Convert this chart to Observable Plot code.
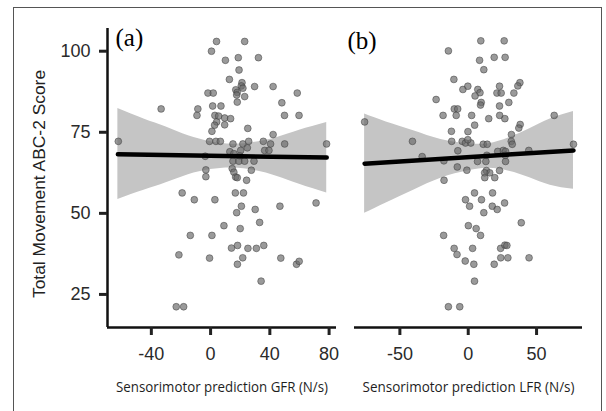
<!DOCTYPE html>
<html>
<head>
<meta charset="utf-8">
<script src="https://cdn.jsdelivr.net/npm/d3@7"></script>
<script src="https://cdn.jsdelivr.net/npm/@observablehq/plot@0.6"></script>
<style>
  html, body { margin: 0; padding: 0; background: #fff; }
  #wrap { position: relative; width: 606px; height: 411px; overflow: hidden; }
  #frame { position: absolute; left: 13px; top: 7px; width: 589px; height: 420px; border: 1.5px solid #555; box-sizing: border-box; pointer-events: none; }
  .panel { position: absolute; top: 0; }
</style>
</head>
<body>
<div id="wrap">
  <div id="frame"></div>
  <div id="pa" class="panel" style="left:0px"></div>
  <div id="pb" class="panel" style="left:345px"></div>
</div>
<script>
// ---------- data ----------
const yTitle = "Total Movement ABC-2 Score";
const yTicks = [25, 50, 75, 100];
const yDomain = [14.8, 107];

// Panel (a): GFR
const labelA = "(a)";
const xTitleA = "Sensorimotor prediction GFR (N/s)";
const xTicksA = [-40, 0, 40, 80];
const xDomainA = [-69.6, 85];
const gfrX = [4, 23, 0.6, 10, 18.7, 32.3, 19.2, 12.7, -1.8, 1.8,
  21.2, 20.7, 21.8, 17, 18, 17.6, 23, 18, 29.7, 42.2,
  58.5, 48.1, 49.9, 59.7, -33.4, -8.6, -9.2, 1.4, 7, 2.9,
  5.4, 4.1, 2.7, 0.9, 9.5, 13.5, 9.5, 25.1, 42.2, -62.3,
  -0.7, 3.6, 6.6, 15.1, 21.8, 25.7, 35.6, 40.5, 50, 78.3,
  20.3, 24.8, 36.5, 39.4, 13, 15.7, 19.8, -3.6, 15.1, 19.1,
  23, 29.3, -3.2, -3.2, 14.6, 15.7, 16.9, 27.5, 18, 24.3,
  -19.2, -11, 2.9, 16.7, 22.2, 20.8, 17.6, 30.1, 46.8, 71.2,
  9, 20, 33.1, -13.7, 0.9, 14.1, 18.2, 25.2, 30.9, 35.9,
  -21.4, -0.7, 21.7, 18.1, 47.4, 58, 59.8, 34.1, -23.2, -18.2];
const gfrY = [103, 103, 100, 97.2, 98, 98, 94.2, 91.3, 87.1, 87.1,
  90.3, 89.3, 88.6, 88.1, 87.3, 86.5, 86, 84.3, 89.1, 89.1,
  87.1, 84.1, 80.2, 80.2, 82.2, 82.2, 80.2, 83.1, 83.1, 80.2,
  80, 78.2, 77.2, 75.3, 79.4, 79.2, 77.3, 76.2, 74.3, 72.2,
  72.2, 72.2, 72.2, 71.4, 71.4, 72.2, 72.2, 71.4, 71.4, 71.4,
  69.4, 70.2, 69.4, 69.4, 69, 68.4, 67.7, 67.6, 66.1, 66.1,
  66.1, 66.1, 63.4, 61.3, 63.8, 62.7, 61.2, 63.3, 61, 60.2,
  56.3, 54.2, 54.2, 56.3, 56.3, 52.2, 50.2, 51.2, 52.2, 53.2,
  46.2, 45.3, 47.2, 43.2, 43.2, 39.3, 40.1, 39.2, 39.2, 40.1,
  37.2, 36.2, 36.3, 34.3, 36.2, 34.3, 35.2, 29.1, 21.2, 21.2];
const fitAX = [-62.6, 78.4];
const fitAY = [68.2, 67.2];
const bandAX = [-62.6, -45, -30, -15, 0, 15, 30, 45, 60, 78.4];
const bandALo = [54.3, 57.1, 59.4, 61.9, 63.5, 64.0, 63.2, 61.4, 59.0, 56.3];
const bandAHi = [82.3, 79.1, 76.6, 73.9, 72.1, 71.3, 71.9, 73.4, 75.6, 78.0];

// Panel (b): LFR
const labelB = "(b)";
const xTitleB = "Sensorimotor prediction LFR (N/s)";
const xTicksB = [-50, 0, 50];
const xDomainB = [-83.2, 83.6];
const lfrX = [9.2, 26.3, -14.5, 8.3, 19, 27, 11.4, -10.5, -3.9, -0.3,
  7, 8.6, 5, 22.9, 21, 24.1, 37.8, 36.3, 33.4, -23.5,
  9.5, 9, 29.7, 22.9, -10.2, -7.7, -8.8, -18.4, 2.5, 15,
  23, 26.8, 62.9, 4.7, -0.2, 38, 37, 31.6, -75.8, -12.3,
  -40.8, -12.1, -4.4, -2, 1.9, -0.3, 11, 13.9, 31.5, 32.2,
  25.6, 21.6, 27.3, 44.3, 77, -7.6, -33.7, -17.8, 6.8, 12.9,
  13.6, 27.3, 27.1, -8, -1, 13.3, 15.7, 12, 22.9, 12.1,
  19.4, -17.7, 4.6, 17.8, -2, 9.7, 1, 17.6, 21.2, 26.6,
  11.4, 38.8, 0.1, 5.8, 9, -18, -10.3, -8.2, 3.2, 23.7,
  26.8, 28.3, -2.2, 4.1, 19, 23.8, 29, 44.5, 4.6, -14.5, -6.2];
const lfrY = [103.2, 103.2, 100.1, 97.2, 98.1, 98.1, 94.3, 91.3, 88.2, 89.2,
  88.2, 87.2, 86.2, 89.2, 87.1, 87.1, 90.3, 89.3, 87.1, 85.1,
  84.2, 83.4, 84.2, 83.1, 82.2, 82.2, 80.2, 80.2, 80.2, 79.2,
  80.2, 79.2, 80.2, 77.2, 75.2, 77.4, 76.3, 74.3, 78.2, 75.3,
  72.2, 72.2, 72.2, 71.7, 71.7, 72.7, 71.3, 71.3, 72.2, 71.3,
  69.4, 69.1, 69.1, 69.4, 71.3, 69.3, 67.5, 66.2, 66, 66,
  67.9, 66, 67.9, 64.3, 63.3, 63.2, 62.5, 62.5, 63.2, 61,
  61, 60.2, 56.3, 56.3, 54.2, 54.2, 52.2, 52.2, 51.2, 53.2,
  50.2, 47.1, 46.2, 45.3, 43.2, 43.2, 39.2, 37.3, 39.2, 39.2,
  40.2, 40.1, 35.3, 34.3, 34.3, 36.3, 36.3, 36.3, 29.1, 21.2, 21.2];
const fitBX = [-75.8, 77];
const fitBY = [65.3, 69.4];
const bandBX = [-75.8, -60, -40, -20, 0, 15, 30, 45, 60, 77];
const bandBLo = [50.0, 53.2, 57.1, 60.8, 63.1, 63.9, 63.0, 61.0, 58.7, 57.4];
const bandBHi = [80.6, 78.2, 75.5, 72.8, 71.5, 71.5, 73.3, 76.1, 79.1, 81.4];

// ---------- drawing ----------
const SANS = "Liberation Sans, Arial, Helvetica, sans-serif";
function panel(o) {
  const pts = d3.range(o.xs.length);
  const band = d3.range(o.bx.length);
  const fit = d3.range(o.fx.length);
  const marks = [
    Plot.areaY(band, {x: i => o.bx[i], y1: i => o.blo[i], y2: i => o.bhi[i], fill: "#c5c5c5", curve: "natural"}),
    Plot.dot(pts, {x: i => o.xs[i], y: i => o.ys[i], r: 3.4, fill: "#6a6a6a", fillOpacity: 0.68, stroke: "#3c3c3c", strokeOpacity: 0.5, strokeWidth: 1}),
    Plot.line(fit, {x: i => o.fx[i], y: i => o.fy[i], stroke: "#000", strokeWidth: 4.5}),
    Plot.ruleY([yDomain[0]], {x1: o.xDomain[0], x2: o.xDomain[1], stroke: "#111", strokeWidth: 2.5}),
    Plot.axisX({ticks: o.xTicks, tickSize: 8, tickPadding: 12, strokeWidth: 3, fontSize: 18, fontFamily: SANS, fill: "#2a2a2a", tickFormat: d => String(d), label: null}),
    Plot.text([o.label], {frameAnchor: "top-left", dx: o.ldx, dy: o.ldy, fontSize: 25, fontFamily: "Liberation Serif, Times New Roman, serif", textAnchor: "start", lineAnchor: "top", fill: "#000"}),
    Plot.text([o.xTitle], {frameAnchor: "bottom", dy: 60, fontSize: 14, fontFamily: "Open Sans, sans-serif", textAnchor: "middle", lineAnchor: "middle", fill: "#1e1e1e"})
  ];
  if (o.showY) {
    marks.push(
      Plot.ruleX([o.xDomain[0]], {y1: yDomain[0], y2: yDomain[1], stroke: "#111", strokeWidth: 2.5}),
      Plot.axisY({ticks: yTicks, tickSize: 8, tickPadding: 9, strokeWidth: 3, fontSize: 18, fontFamily: SANS, fill: "#2a2a2a", label: null}),
      Plot.text([yTitle], {frameAnchor: "left", dx: -68, dy: 6, rotate: -90, fontSize: 17.4, fontFamily: SANS, fill: "#222", textAnchor: "middle", lineAnchor: "middle"})
    );
  }
  return Plot.plot({
    width: o.width, height: 411,
    marginLeft: o.mL, marginRight: o.mR, marginTop: 28, marginBottom: 84,
    x: {domain: o.xDomain, axis: null},
    y: {domain: yDomain, axis: null},
    style: {fontFamily: SANS, background: "transparent", color: "#222", overflow: "visible"},
    marks
  });
}

const A = panel({xs: gfrX, ys: gfrY, bx: bandAX, blo: bandALo, bhi: bandAHi, fx: fitAX, fy: fitAY,
  xDomain: xDomainA, xTicks: xTicksA, width: 345, mL: 107, mR: 9, showY: true,
  label: labelA, ldx: 8, ldy: 0, xTitle: xTitleA});
const B = panel({xs: lfrX, ys: lfrY, bx: bandBX, blo: bandBLo, bhi: bandBHi, fx: fitBX, fy: fitBY,
  xDomain: xDomainB, xTicks: xTicksB, width: 261, mL: 9, mR: 24, showY: false,
  label: labelB, ldx: -7, ldy: 3, xTitle: xTitleB});
document.getElementById("pa").appendChild(A);
document.getElementById("pb").appendChild(B);

// fit text lengths to the reference's narrower face
for (const svg of [A, B]) {
  svg.querySelectorAll("text").forEach(t => {
    const s = t.textContent;
    if (s.startsWith("Sensorimotor")) { t.setAttribute("textLength", 212); t.setAttribute("lengthAdjust", "spacingAndGlyphs"); }
  });
}
</script>
</body>
</html>
